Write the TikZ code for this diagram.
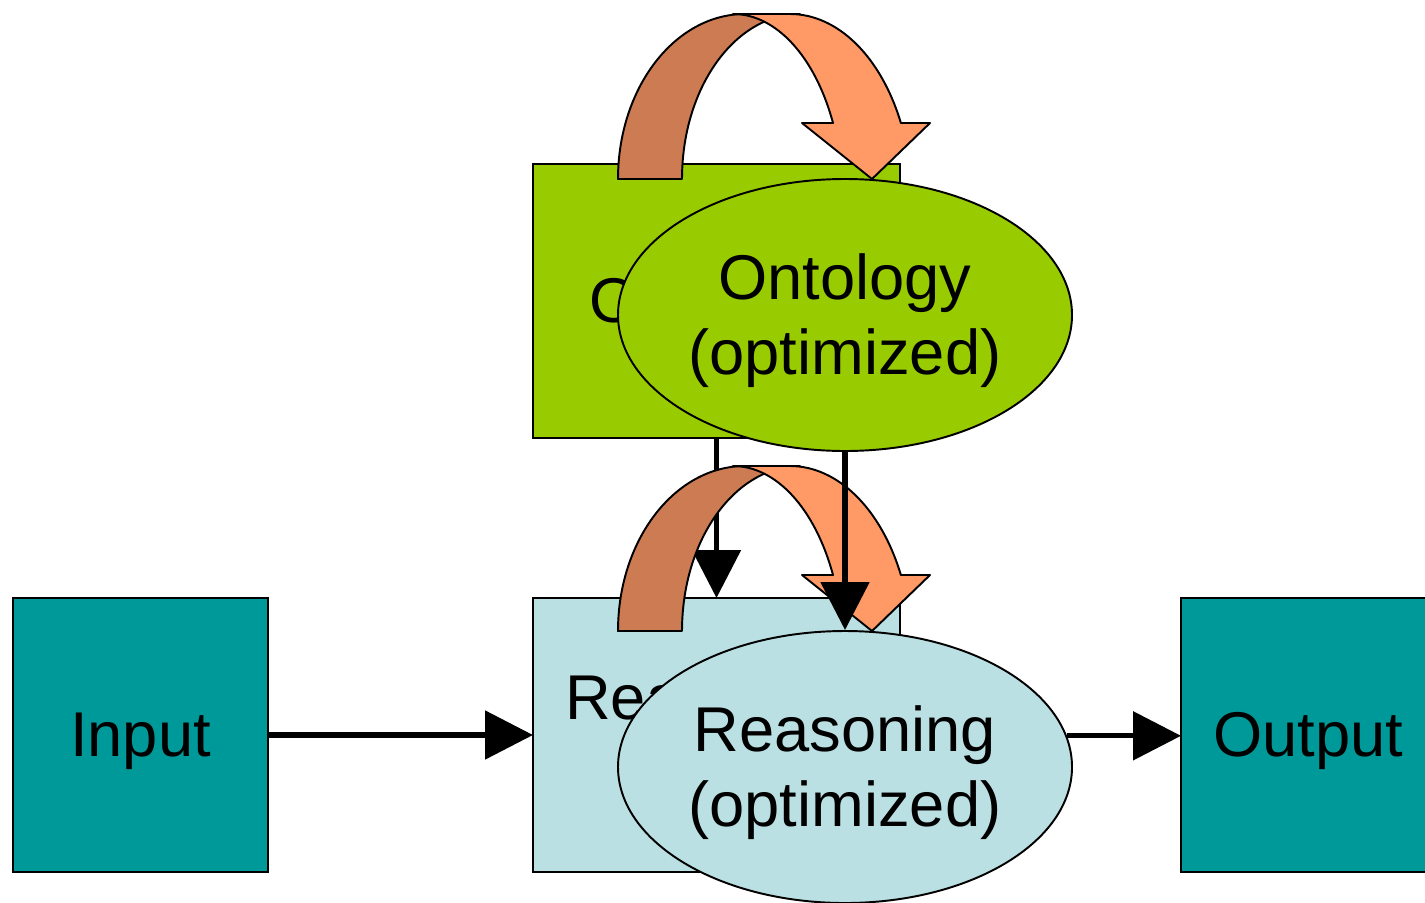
\documentclass[tikz,border=0pt]{standalone}
\usepackage{fontspec}
\setmainfont{Liberation Sans}
\usepackage{tikz}
\usetikzlibrary{calc,positioning,shapes.geometric,arrows.meta}
\definecolor{boxteal}{HTML}{009999}
\definecolor{ontgreen}{HTML}{99CC00}
\definecolor{reablue}{HTML}{BBE0E3}
\definecolor{bandback}{HTML}{CC7B52}
\definecolor{bandfront}{HTML}{FF9966}
\newcommand{\ppstrut}{\rule[-7.6pt]{0pt}{40.2pt}}
\newcommand{\uarrow}[1]{%
	\filldraw[band,fill=bandback] (#1) arc[start angle=180,end angle=90,x radius=2.54cm,y radius=3.3cm] -- ++(1.1,0) arc[start angle=90,end angle=180,x radius=2.36cm,y radius=3.3cm] -- cycle;
	\filldraw[band,fill=bandfront] ($(#1)+(2.3,3.3)$) -- ++(1.14,0) arc[start angle=90,end angle=24.65,x radius=2.44cm,y radius=3.74cm] -- ++(0.582,0) -- ($(#1)+(5.08,0)$) -- ($(#1)+(3.68,1.12)$) -- ($(#1)+(4.3,1.12)$) arc[start angle=24.65,end angle=90,x radius=2.2cm,y radius=3.74cm] -- cycle;}

\begin{document}
\begin{tikzpicture}[
		box/.style={draw=black,line width=1.1pt,minimum width=5.1cm,minimum height=5.48cm,inner sep=0pt,outer sep=0pt,align=center,font=\fontsize{36}{43}\selectfont},
		wide/.style={minimum width=7.34cm},
		oval/.style={ellipse,draw=black,line width=1.1pt,minimum width=9.08cm,minimum height=5.44cm,inner sep=0pt,align=center,font=\fontsize{36}{43}\selectfont},
		arr/.style={line width=3pt,-{Triangle[length=0.96cm,width=0.96cm]}},
		band/.style={draw=black,line width=1.1pt,line join=round}]
		\useasboundingbox (0,0) rectangle (28.5,-18.04);
		\node(1) [box,fill=boxteal] at (2.81,-14.7) {\ppstrut Input};
		\node(2) [box,wide,fill=reablue,right=5.3 of 1] {\ppstrut Reasoning\\\ppstrut Engine};
		\node(3) [box,wide,fill=ontgreen,above=3.2 of 2] {\ppstrut Ontology};
		\node(4) [box,fill=boxteal,right=5.62 of 2] {\ppstrut Output};
		\draw[arr] (3.south) -- (2.north);
		\coordinate (c5) at ($(3.center)+(2.57,-0.28)$);
		\coordinate (c6) at ($(2.center)+(2.57,-0.64)$);
		\uarrow{$(c5)+(-4.54,2.72)$}
		\uarrow{$(c6)+(-4.54,2.72)$}
		\node(5) [oval,fill=ontgreen] at (c5) {\ppstrut Ontology\\\ppstrut (optimized)};
		\node(6) [oval,fill=reablue] at (c6) {\ppstrut Reasoning\\\ppstrut (optimized)};
		\draw[arr] (5.south) -- (6.north);
		\draw[arr] (1.east) -- (2.west);
		\draw[arr] (6.8) -- (6.8 -| 4.west);
\end{tikzpicture}
\end{document}
